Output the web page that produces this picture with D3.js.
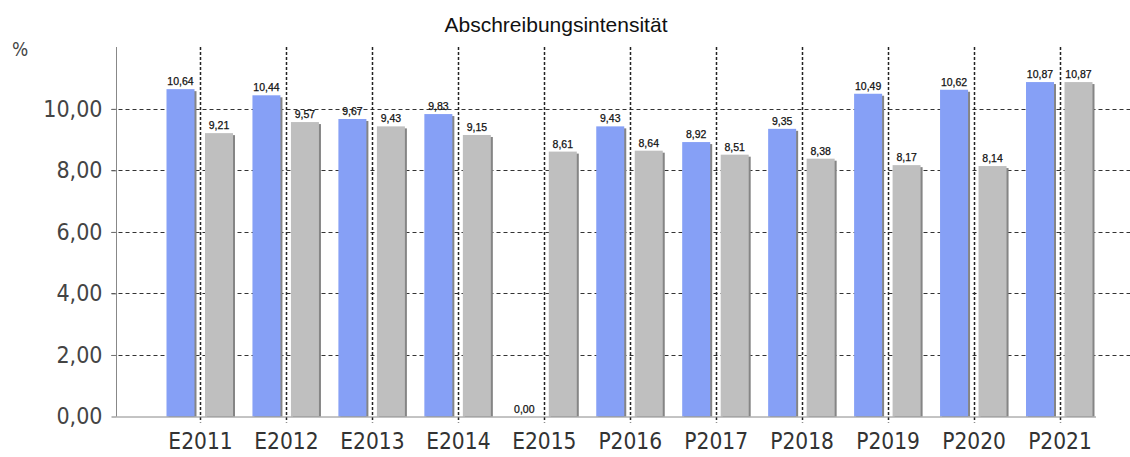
<!DOCTYPE html>
<html>
<head>
<meta charset="utf-8">
<script src="https://cdn.jsdelivr.net/npm/d3@7"></script>
<style>
  body { margin: 0; background: #fff; }
  svg { display: block; }
</style>
</head>
<body>
<div id="chart"></div>
<script>
// data
var categories = ["E2011", "E2012", "E2013", "E2014", "E2015", "P2016", "P2017", "P2018", "P2019", "P2020", "P2021"];
var blueValues = [10.64, 10.44, 9.67, 9.83, 0.00, 9.43, 8.92, 9.35, 10.49, 10.62, 10.87];
var grayValues = [9.21, 9.57, 9.43, 9.15, 8.61, 8.64, 8.51, 8.38, 8.17, 8.14, 10.87];
var yTicks = [0, 2, 4, 6, 8, 10];

var svgWidth = 1130;
var svgHeight = 457;

var plotLeft = 116.5;
var plotRight = 1130;
var plotTop = 47;
var plotBottom = 416.5;

var svg = d3.select("#chart")
  .append("svg")
  .attr("width", svgWidth)
  .attr("height", svgHeight);

var fmt = function(v) { return d3.format(".2f")(v).replace(".", ","); };

// scales
var xScale = d3.scalePoint()
  .domain(categories)
  .range([200, 1059.5]);

var yScale = d3.scaleLinear()
  .domain([0, 12])
  .range([plotBottom, plotTop + 0.3]);

var barWidth = 28;
var barGap = 4;

// title
svg.append("text")
  .attr("x", 556)
  .attr("y", 32)
  .attr("text-anchor", "middle")
  .attr("font-family", "Liberation Sans, Arial, sans-serif")
  .attr("font-size", "21px")
  .attr("fill", "#111")
  .text("Abschreibungsintensität");

// unit label
svg.append("text")
  .attr("x", 12)
  .attr("y", 56)
  .attr("font-family", "DejaVu Sans Condensed, DejaVu Sans, sans-serif")
  .attr("font-size", "19px")
  .attr("fill", "#444")
  .text("%");

// horizontal gridlines
svg.append("g")
  .selectAll("line")
  .data(yTicks.filter(d => d > 0))
  .enter()
  .append("line")
  .attr("x1", plotLeft - 5)
  .attr("x2", plotRight)
  .attr("y1", d => Math.round(yScale(d)) + 0.5)
  .attr("y2", d => Math.round(yScale(d)) + 0.5)
  .attr("stroke", "#333")
  .attr("stroke-width", 1)
  .attr("stroke-dasharray", "4,3");

// y axis
var leftAxis = d3.axisLeft(yScale)
  .tickValues(yTicks)
  .tickFormat(fmt)
  .tickSize(5)
  .tickPadding(9);

var yAxis = svg.append("g")
  .attr("transform", `translate(${plotLeft}, 0)`)
  .call(leftAxis);

yAxis.select(".domain")
  .attr("d", `M0,${plotTop}V${plotBottom}`)
  .attr("stroke", "#888");
yAxis.selectAll(".tick line").attr("stroke", "#777");
yAxis.selectAll(".tick text")
  .attr("font-family", "DejaVu Sans Condensed, DejaVu Sans, sans-serif")
  .attr("font-size", "23px")
  .attr("fill", "#444");

// bars: shadow first, then bar
var bars = svg.append("g");

function drawBars(values, fill, offset) {
  var g = bars.append("g");
  g.selectAll("rect.shadow")
    .data(values)
    .enter()
    .append("rect")
    .attr("class", "shadow")
    .attr("x", (d, i) => xScale(categories[i]) + offset + 2)
    .attr("y", d => yScale(d) + 2)
    .attr("width", barWidth)
    .attr("height", d => Math.max(0, plotBottom - yScale(d) - 2))
    .attr("fill", "#858585");
  g.selectAll("rect.bar")
    .data(values)
    .enter()
    .append("rect")
    .attr("class", "bar")
    .attr("x", (d, i) => xScale(categories[i]) + offset)
    .attr("y", d => yScale(d))
    .attr("width", barWidth)
    .attr("height", d => plotBottom - yScale(d))
    .attr("fill", fill);
  g.selectAll("text")
    .data(values)
    .enter()
    .append("text")
    .attr("x", (d, i) => xScale(categories[i]) + offset + barWidth / 2)
    .attr("y", d => yScale(d) - 4)
    .attr("text-anchor", "middle")
    .attr("font-family", "Liberation Sans, Arial, sans-serif")
    .attr("font-size", "10.5px")
    .attr("fill", "#111")
    .attr("stroke", "#111")
    .attr("stroke-width", 0.25)
    .text(d => fmt(d));
}

drawBars(blueValues, "#86a0f6", -barWidth - barGap - 1.5);
drawBars(grayValues, "#bfbfbf", barGap + 1);

// vertical dashed lines at category centres
svg.append("g")
  .selectAll("line")
  .data(categories)
  .enter()
  .append("line")
  .attr("x1", d => Math.round(xScale(d)) + 0.5)
  .attr("x2", d => Math.round(xScale(d)) + 0.5)
  .attr("y1", plotTop)
  .attr("y2", plotBottom + 6)
  .attr("stroke", "#222")
  .attr("stroke-width", 1.5)
  .attr("stroke-dasharray", "3,2");

// x axis baseline and labels
var bottomAxis = d3.axisBottom(xScale)
  .tickSize(0)
  .tickPadding(17);

var xAxis = svg.append("g")
  .attr("transform", `translate(0, ${plotBottom})`)
  .call(bottomAxis);

xAxis.select(".domain")
  .attr("d", `M${plotLeft},0.5H1096`)
  .attr("stroke", "#888");
xAxis.selectAll(".tick text")
  .attr("font-family", "DejaVu Sans Condensed, DejaVu Sans, sans-serif")
  .attr("font-size", "22.5px")
  .attr("fill", "#333");
</script>
</body>
</html>
